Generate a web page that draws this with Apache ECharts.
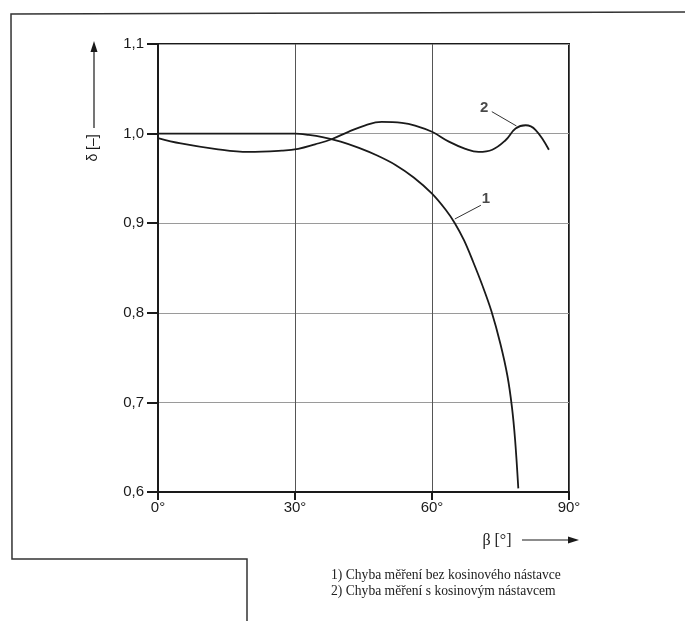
<!DOCTYPE html>
<html>
<head>
<meta charset="utf-8">
<script src="https://cdn.jsdelivr.net/npm/echarts@6/dist/echarts.min.js"></script>
<style>
html,body{margin:0;padding:0;background:#fff;}
#chart{width:685px;height:621px;}
</style>
</head>
<body>
<div id="chart"></div>
<script>
// ---- data ----
var xTicks = [0, 30, 60, 90];
var yTicks = [0.6, 0.7, 0.8, 0.9, 1.0, 1.1];

// curve 1: without cosine attachment (beta in degrees, delta)
var curve1Beta  = [0, 10, 20, 30, 33, 36, 40, 44, 48, 52, 56, 60, 63, 65, 67, 69, 71, 73, 75, 76.5, 77.5, 78.2, 78.9];
var curve1Delta = [1.0, 1.0, 1.0, 1.0, 0.9985, 0.996, 0.991, 0.984, 0.9755, 0.965, 0.951, 0.933, 0.915, 0.900, 0.881, 0.857, 0.831, 0.802, 0.765, 0.730, 0.695, 0.658, 0.604];

// curve 2: with cosine attachment
var curve2Beta  = [0, 5, 12.4, 19.8, 27.1, 30.7, 34.4, 38, 41.7, 45.4, 49, 53.4, 56.3, 60, 63.7, 67.3, 70.2, 73.2, 76.1, 78.3, 80.5, 82.7, 85.6];
var curve2Delta = [0.995, 0.989, 0.983, 0.9795, 0.981, 0.983, 0.988, 0.9937, 1.002, 1.0093, 1.013, 1.012, 1.009, 1.002, 0.991, 0.983, 0.9795, 0.982, 0.9926, 1.0056, 1.0093, 1.004, 0.982];

// callout labels and leader lines (data coordinates)
var label1 = {name: '1', pos: [71.8, 0.927], leader: [[70.7, 0.920], [65.0, 0.9047]]};
var label2 = {name: '2', pos: [71.4, 1.029], leader: [[73.1, 1.0245], [78.5, 1.0085]]};

var xAxisName = 'β [°]';
var yAxisName = 'δ [–]';
var notes = ['1) Chyba měření bez kosinového nástavce', '2) Chyba měření s kosinovým nástavcem'];

function zip(a, b) { return a.map(function (v, i) { return [v, b[i]]; }); }

var chart = echarts.init(document.getElementById('chart'), null, {renderer: 'canvas'});
var sans = '"Liberation Sans", Arial, sans-serif';
var serif = '"Liberation Serif", "Times New Roman", serif';
var ink = '#1a1a1a';

var option = {
  backgroundColor: '#ffffff',
  animation: false,
  grid: {left: 158, right: 116, top: 44, bottom: 129, show: true, borderColor: ink, borderWidth: 2, backgroundColor: 'transparent'},
  xAxis: {
    type: 'value', min: 0, max: 90, interval: 30,
    axisLine: {show: true, lineStyle: {color: ink, width: 2}},
    axisTick: {show: true, length: 8, lineStyle: {color: ink, width: 2}},
    axisLabel: {margin: 8, fontFamily: sans, fontSize: 15, color: ink, formatter: function (v) { return v + '°'; }},
    splitLine: {show: true, lineStyle: {color: '#555', width: 1}}
  },
  yAxis: {
    type: 'value', min: 0.6, max: 1.1, interval: 0.1,
    axisLine: {show: true, lineStyle: {color: ink, width: 2}},
    axisTick: {show: true, length: 11, lineStyle: {color: ink, width: 2}},
    axisLabel: {margin: 14, fontFamily: sans, fontSize: 15, color: ink, formatter: function (v) { return v.toFixed(1).replace('.', ','); }},
    splitLine: {show: true, lineStyle: {color: '#9a9a9a', width: 1}}
  },
  series: [
    {type: 'line', name: '1', data: zip(curve1Beta, curve1Delta), smooth: 0.35, showSymbol: false, lineStyle: {color: ink, width: 1.8}, z: 5},
    {type: 'line', name: '2', data: zip(curve2Beta, curve2Delta), smooth: 0.4, showSymbol: false, lineStyle: {color: ink, width: 1.8}, z: 5},
    {type: 'line', data: label1.leader, showSymbol: false, lineStyle: {color: '#333', width: 1}, z: 4},
    {type: 'line', data: label2.leader, showSymbol: false, lineStyle: {color: '#333', width: 1}, z: 4},
    {type: 'scatter', symbolSize: 0, z: 6,
      data: [{name: label1.name, value: label1.pos}, {name: label2.name, value: label2.pos}],
      label: {show: true, position: 'inside', formatter: '{b}', fontFamily: sans, fontWeight: 'bold', fontSize: 15, color: ink}}
  ],
  graphic: [
    // page frame
    {type: 'polyline', shape: {points: [[685, 12], [11, 14], [12, 559], [247, 559], [247, 621]]}, style: {stroke: '#333', lineWidth: 1.5, fill: null}},
    // y-axis name and arrow
    {type: 'text', x: 93, y: 148, rotation: Math.PI / 2, style: {text: yAxisName, font: '14px ' + sans, fill: ink, textAlign: 'center', textVerticalAlign: 'middle'}},
    {type: 'line', shape: {x1: 94, y1: 128, x2: 94, y2: 50}, style: {stroke: ink, lineWidth: 1.2}},
    {type: 'polygon', shape: {points: [[94, 41], [90.5, 52], [97.5, 52]]}, style: {fill: ink}},
    // x-axis name and arrow
    {type: 'text', x: 497, y: 541, style: {text: xAxisName, font: '16px ' + serif, fill: ink, textAlign: 'center', textVerticalAlign: 'middle'}},
    {type: 'line', shape: {x1: 522, y1: 540, x2: 570, y2: 540}, style: {stroke: ink, lineWidth: 1.2}},
    {type: 'polygon', shape: {points: [[579, 540], [568, 536.5], [568, 543.5]]}, style: {fill: ink}},
    // notes
    {type: 'text', x: 331, y: 575, style: {text: notes[0], font: '13.6px ' + serif, fill: '#222', textAlign: 'left', textVerticalAlign: 'middle'}},
    {type: 'text', x: 331, y: 591, style: {text: notes[1], font: '13.6px ' + serif, fill: '#222', textAlign: 'left', textVerticalAlign: 'middle'}}
  ]
};
chart.setOption(option);
</script>
</body>
</html>
